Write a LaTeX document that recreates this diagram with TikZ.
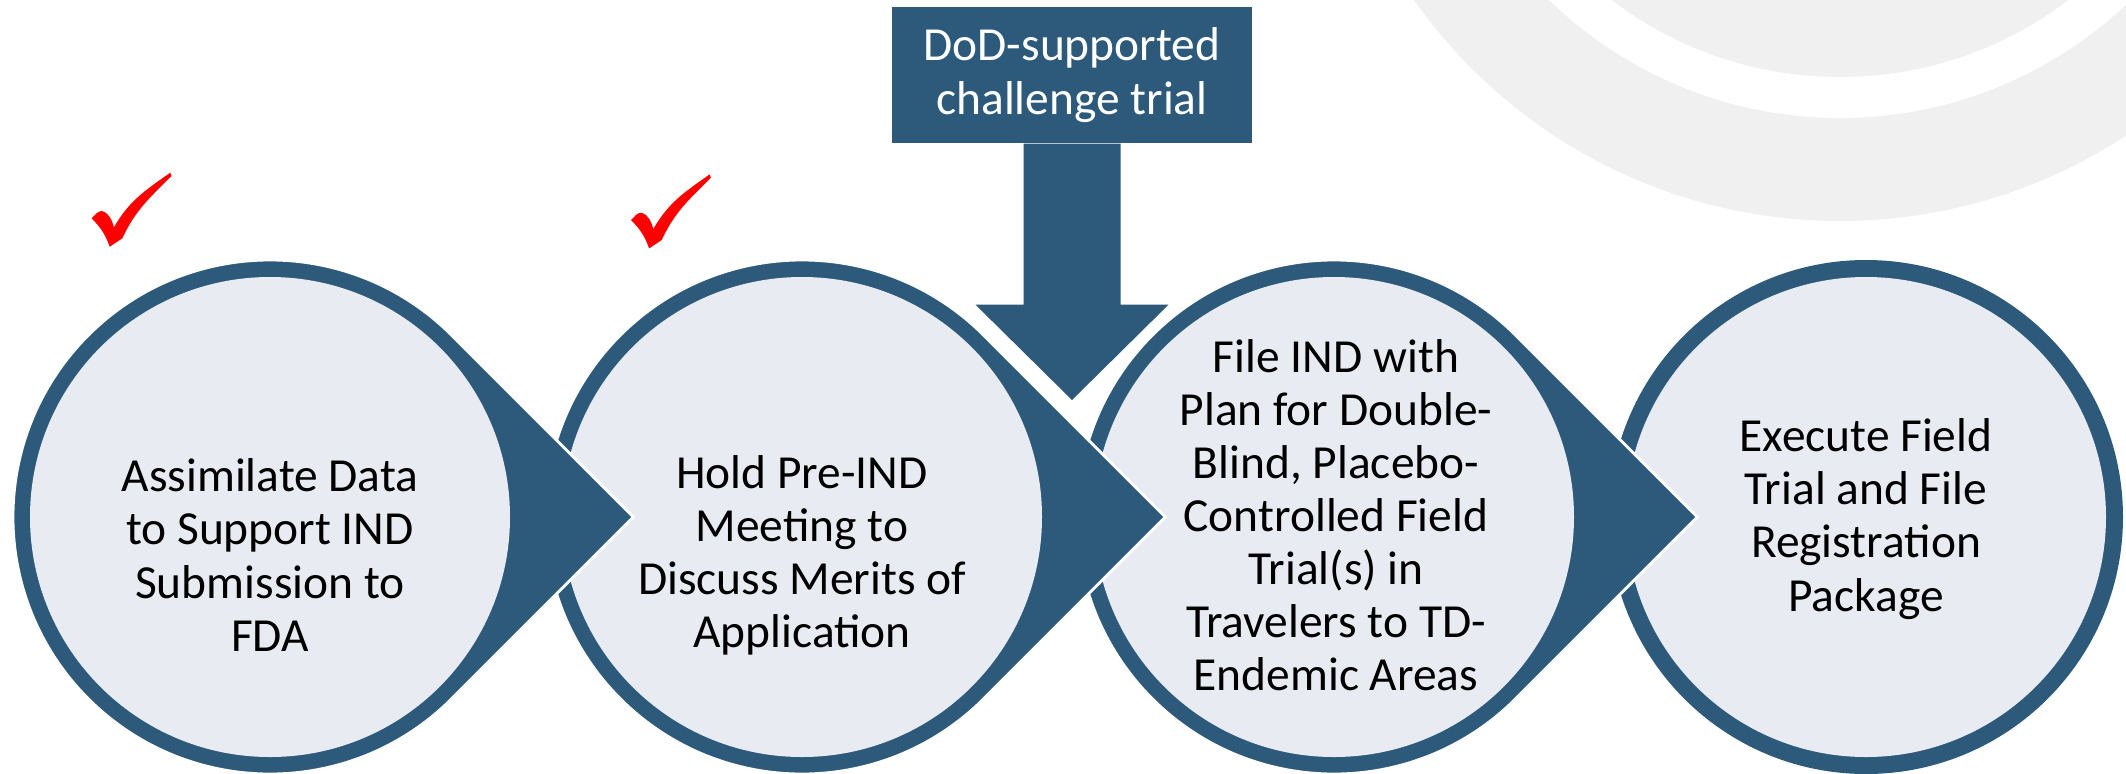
\documentclass[tikz,border=0pt]{standalone}
\usepackage{fontspec}
\setmainfont{Carlito}
\usetikzlibrary{calc}

\definecolor{stepblue}{HTML}{2D5A7B}
\definecolor{steplight}{HTML}{E8EBF1}
\definecolor{logogray}{HTML}{F0F0F0}
\definecolor{tickred}{HTML}{FF0000}

\tikzset{
  stepring/.style={circle, fill=stepblue, minimum size=5.14cm, inner sep=0pt},
  stepdisc/.style={circle, fill=steplight, minimum size=4.80cm, inner sep=0pt},
  steptext/.style={align=center, inner sep=0pt, font=\fontsize{13.5}{15.1}\selectfont},
  dodbox/.style={fill=stepblue, text=white, align=center, minimum width=3.60cm,
    minimum height=1.36cm, inner sep=0pt, font=\fontsize{13.5}{15.4}\selectfont},
  tickmark/.style={fill=tickred},
}

\begin{document}
\begin{tikzpicture}
\useasboundingbox (0,0) rectangle (21.26,-7.73);

% faint logo behind, top right
\begin{scope}
  \clip (0,0) rectangle (21.26,-7.73);
  \fill[logogray, even odd rule] (18.40,3.00) circle (5.21) (18.40,3.00) circle (4.18);
  \fill[logogray] (18.40,3.00) circle (3.77);
\end{scope}

% last step has no point
\node[stepring] (r4) at (18.66,-5.17) {};
\node[stepdisc] (s4) at (r4) {};

% other steps, right to left so each point lies over the next circle
\foreach \x/\n in {13.34/3, 8.02/2, 2.70/1}{
  \filldraw[stepblue, draw=white, line width=0.8pt] (\x,-5.17) ++(45:2.57)
    arc[start angle=45, end angle=315, radius=2.57] -- ++(45:2.57) -- cycle;
  \node[stepdisc] (s\n) at (\x,-5.17) {};
}

\node[steptext, yshift=-3.8mm] (t1) at (s1) {Assimilate Data\\to Support IND\\Submission to\\FDA};
\node[steptext, yshift=-3.8mm] (t2) at (s2) {Hold Pre-IND\\Meeting to\\Discuss Merits of\\Application};
\node[steptext, yshift=0.2mm, xshift=0.2mm] (t3) at (s3) {File IND with\\Plan for Double-\\Blind, Placebo-\\Controlled Field\\Trial(s) in\\Travelers to TD-\\Endemic Areas};
\node[steptext, yshift=-0.2mm] (t4) at (s4) {Execute Field\\Trial and File\\Registration\\Package};

% challenge trial box and its arrow
\node[dodbox] (dod) at (10.72,-0.75) {DoD-supported\\challenge trial};
\coordinate (dip) at (10.72,-4.00);
\fill[stepblue] ($(dod.south)+(-0.485,0)$) -- ++(0,-1.61) -- ++(-0.48,0) -- (dip)
  -- ($(dod.south)+(0.965,-1.61)$) -- ++(-0.48,0) -- ++(0,1.61) -- cycle;

% done marks
\foreach \p in {(0.916,-1.727),(6.31,-1.744)}{
  \fill[tickmark, shift={\p}] (0,-0.456) to[out=40,in=180] (0.105,-0.383)
    to[out=-20,in=105] (0.223,-0.546) to[out=60,in=215] (0.787,0) -- (0.799,-0.033)
    to[out=225,in=65] (0.307,-0.656) -- (0.181,-0.74) to[out=110,in=-45] (0,-0.456) -- cycle;
}
\end{tikzpicture}
\end{document}
